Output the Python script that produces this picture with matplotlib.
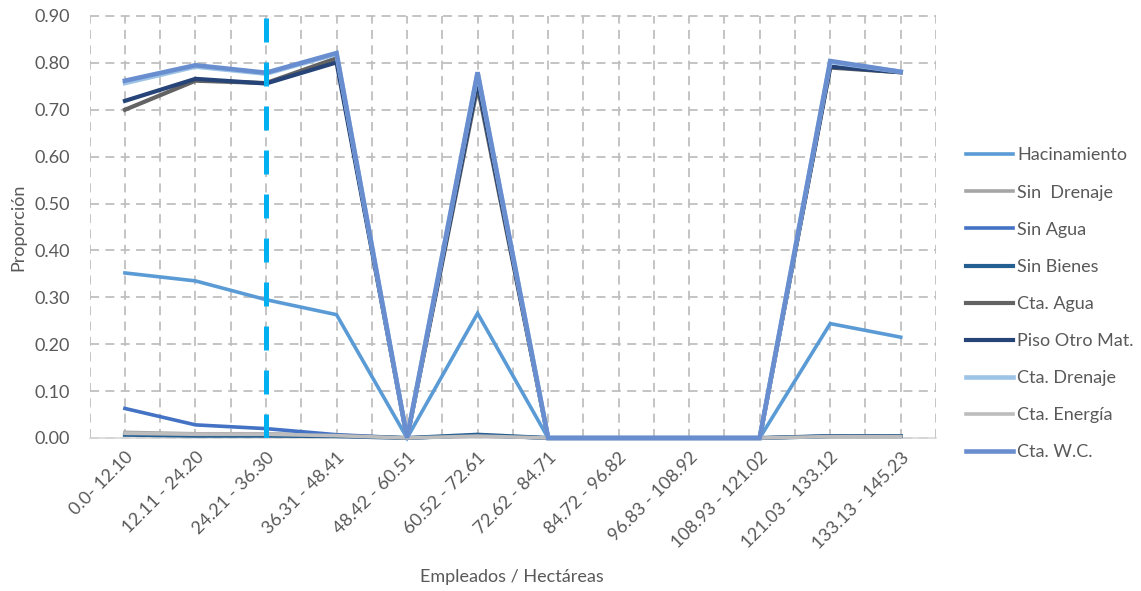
import matplotlib
matplotlib.use("Agg")
import matplotlib.pyplot as plt
from matplotlib.ticker import MultipleLocator, FormatStrFormatter

plt.rcParams['font.family'] = ['Lato', 'DejaVu Sans']

categories = ["0.0- 12.10", "12.11 - 24.20", "24.21 - 36.30", "36.31 - 48.41",
              "48.42 - 60.51", "60.52 - 72.61", "72.62 - 84.71", "84.72 - 96.82",
              "96.83 - 108.92", "108.93 - 121.02", "121.03 - 133.12", "133.13 - 145.23"]

hacinamiento = [0.352, 0.335, 0.295, 0.263, 0.0, 0.266, 0.0, 0.0, 0.0, 0.0, 0.244, 0.215]
sin_drenaje  = [0.012, 0.009, 0.009, 0.006, 0.0, 0.006, 0.0, 0.0, 0.0, 0.0, 0.004, 0.004]
sin_agua     = [0.063, 0.028, 0.020, 0.007, 0.0, 0.005, 0.0, 0.0, 0.0, 0.0, 0.004, 0.004]
sin_bienes   = [0.007, 0.005, 0.005, 0.004, 0.0, 0.007, 0.0, 0.0, 0.0, 0.0, 0.004, 0.004]
cta_agua     = [0.700, 0.762, 0.757, 0.810, 0.0, 0.750, 0.0, 0.0, 0.0, 0.0, 0.790, 0.780]
piso_otro    = [0.719, 0.766, 0.756, 0.801, 0.0, 0.760, 0.0, 0.0, 0.0, 0.0, 0.792, 0.780]
cta_drenaje  = [0.757, 0.792, 0.777, 0.819, 0.0, 0.778, 0.0, 0.0, 0.0, 0.0, 0.802, 0.781]
cta_energia  = [0.010, 0.008, 0.008, 0.005, 0.0, 0.004, 0.0, 0.0, 0.0, 0.0, 0.003, 0.003]
cta_wc       = [0.762, 0.795, 0.779, 0.821, 0.0, 0.780, 0.0, 0.0, 0.0, 0.0, 0.804, 0.781]

series = [
    ("Hacinamiento", hacinamiento, "#5B9BD5", 2.6),
    ("Sin  Drenaje", sin_drenaje, "#A5A5A5", 2.6),
    ("Sin Agua", sin_agua, "#4472C4", 2.6),
    ("Sin Bienes", sin_bienes, "#255E91", 3.0),
    ("Cta. Agua", cta_agua, "#636363", 3.0),
    ("Piso Otro Mat.", piso_otro, "#264478", 3.0),
    ("Cta. Drenaje", cta_drenaje, "#9DC3E6", 3.3),
    ("Cta. Energía", cta_energia, "#BDBDBD", 2.6),
    ("Cta. W.C.", cta_wc, "#698ED0", 3.3),
]

marker_category = 2

fig = plt.figure(figsize=(11.41, 5.91), dpi=100)
ax = fig.add_axes([89.7/1141, 1-438/591, (936-89.7)/1141, (438-16)/591])

x = list(range(len(categories)))
handles = []
for name, vals, col, lw in series:
    h, = ax.plot(x, vals, color=col, lw=lw, label=name, solid_joinstyle='miter',
                 zorder=3, clip_on=False)
    handles.append(h)

ax.axvline(marker_category, color="#00B0F0", lw=3.6, linestyle=(0, (4.8, 4.0)),
           solid_capstyle='butt', dash_capstyle='butt', zorder=4)

ax.set_xlim(-0.5, len(categories) - 0.5)
ax.set_ylim(0, 0.9)
ax.yaxis.set_major_locator(MultipleLocator(0.1))
ax.yaxis.set_major_formatter(FormatStrFormatter('%.2f'))
ax.set_xticks(x)
ax.set_xticks([i - 0.5 for i in range(len(categories) + 1)], minor=True)
ax.set_xticklabels(categories, rotation=45, ha='right', rotation_mode='anchor',
                   fontsize=13, color="#595959")
ax.tick_params(axis='x', which='both', length=0, pad=8)
ax.tick_params(axis='y', length=0, pad=14, labelsize=13, labelcolor="#595959")

gs = dict(color="#BFBFBF", lw=1.3, linestyle=(0, (5, 3.5)))
ax.grid(True, axis='y', which='major', **gs)
ax.grid(True, axis='x', which='major', **gs)
ax.grid(True, axis='x', which='minor', **gs)
for gl in ax.get_xgridlines() + ax.get_ygridlines():
    gl.set_clip_on(False)
ax.set_axisbelow(True)

for s in ['left', 'right', 'top']:
    ax.spines[s].set_visible(False)
ax.spines['bottom'].set_color("#D9D9D9")
ax.spines['bottom'].set_linewidth(1.2)
ax.spines['bottom'].set_zorder(2)

fig.text(18/1141, 1-(227)/591, "Proporción", rotation=90, ha='center', va='center',
         fontsize=13, color="#595959")
fig.text(512/1141, 1-577/591, "Empleados / Hectáreas", ha='center', va='center',
         fontsize=13, color="#595959")

leg = fig.legend(handles=handles, loc='center left', bbox_to_anchor=(966/1141, 1-304/591),
                 frameon=False, fontsize=13, labelspacing=1.17, handlelength=2.6,
                 handletextpad=0.25, borderpad=0, borderaxespad=0)
for t in leg.get_texts():
    t.set_color("#595959")

fig.savefig("out.png", dpi=100)
